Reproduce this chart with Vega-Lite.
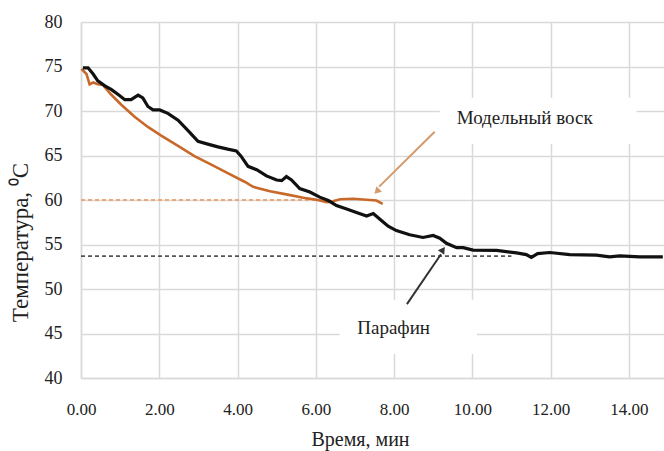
{
  "$schema": "https://vega.github.io/schema/vega-lite/v6.json",
  "width": 583,
  "height": 356,
  "autosize": "none",
  "padding": {"left": 81, "top": 22, "right": 0, "bottom": 73},
  "background": "white",
  "config": {"view": {"stroke": null}},
  "datasets": {
    "boxes": [
      {"x": 9.17, "x2": 14.2, "y": 71.5, "y2": 66.3},
      {"x": 6.61, "x2": 10.12, "y": 48.8, "y2": 42.7}
    ],
    "wax": [
      {"x": 0.01, "y": 74.73}, {"x": 0.14, "y": 74.16}, {"x": 0.22, "y": 73.0}, {"x": 0.31, "y": 73.2},
      {"x": 0.43, "y": 73.0}, {"x": 0.56, "y": 72.93}, {"x": 0.77, "y": 71.85}, {"x": 1.03, "y": 70.7},
      {"x": 1.37, "y": 69.36}, {"x": 1.71, "y": 68.21}, {"x": 2.05, "y": 67.24}, {"x": 2.48, "y": 66.09},
      {"x": 2.9, "y": 64.93}, {"x": 3.33, "y": 63.98}, {"x": 3.75, "y": 63.02}, {"x": 4.18, "y": 62.05},
      {"x": 4.4, "y": 61.48}, {"x": 4.83, "y": 60.98}, {"x": 5.25, "y": 60.63}, {"x": 5.68, "y": 60.25},
      {"x": 6.02, "y": 60.02}, {"x": 6.28, "y": 59.75}, {"x": 6.44, "y": 59.86}, {"x": 6.62, "y": 60.09},
      {"x": 6.96, "y": 60.14}, {"x": 7.3, "y": 60.02}, {"x": 7.55, "y": 59.94}, {"x": 7.71, "y": 59.56}
    ],
    "paraffin": [
      {"x": 0.05, "y": 74.85}, {"x": 0.18, "y": 74.85}, {"x": 0.31, "y": 74.16}, {"x": 0.43, "y": 73.39},
      {"x": 0.61, "y": 72.82}, {"x": 0.77, "y": 72.43}, {"x": 0.95, "y": 71.85}, {"x": 1.12, "y": 71.27},
      {"x": 1.28, "y": 71.27}, {"x": 1.46, "y": 71.78}, {"x": 1.58, "y": 71.47}, {"x": 1.71, "y": 70.51},
      {"x": 1.84, "y": 70.12}, {"x": 2.01, "y": 70.12}, {"x": 2.22, "y": 69.74}, {"x": 2.48, "y": 68.97},
      {"x": 2.73, "y": 67.82}, {"x": 2.99, "y": 66.59}, {"x": 3.24, "y": 66.28}, {"x": 3.5, "y": 65.97},
      {"x": 3.75, "y": 65.71}, {"x": 3.97, "y": 65.51}, {"x": 4.09, "y": 64.93}, {"x": 4.27, "y": 63.78},
      {"x": 4.49, "y": 63.4}, {"x": 4.74, "y": 62.71}, {"x": 5.0, "y": 62.25}, {"x": 5.13, "y": 62.17},
      {"x": 5.25, "y": 62.63}, {"x": 5.38, "y": 62.25}, {"x": 5.59, "y": 61.29}, {"x": 5.85, "y": 60.9},
      {"x": 6.1, "y": 60.32}, {"x": 6.32, "y": 59.94}, {"x": 6.53, "y": 59.37}, {"x": 6.79, "y": 58.99},
      {"x": 7.04, "y": 58.6}, {"x": 7.3, "y": 58.21}, {"x": 7.47, "y": 58.48}, {"x": 7.64, "y": 57.83},
      {"x": 7.85, "y": 57.06}, {"x": 8.06, "y": 56.56}, {"x": 8.4, "y": 56.1}, {"x": 8.74, "y": 55.79},
      {"x": 9.0, "y": 56.02}, {"x": 9.17, "y": 55.71}, {"x": 9.34, "y": 55.14}, {"x": 9.6, "y": 54.64},
      {"x": 9.77, "y": 54.64}, {"x": 10.02, "y": 54.37}, {"x": 10.62, "y": 54.33}, {"x": 11.13, "y": 54.06},
      {"x": 11.38, "y": 53.87}, {"x": 11.51, "y": 53.55}, {"x": 11.67, "y": 53.98}, {"x": 11.98, "y": 54.1},
      {"x": 12.49, "y": 53.87}, {"x": 13.17, "y": 53.8}, {"x": 13.51, "y": 53.6}, {"x": 13.77, "y": 53.72},
      {"x": 14.28, "y": 53.6}, {"x": 14.87, "y": 53.6}
    ]
  },
  "encoding": {
    "x": {
      "field": "x", "type": "quantitative",
      "scale": {"domain": [0, 14.9], "nice": false, "zero": false},
      "axis": {
        "values": [0, 2, 4, 6, 8, 10, 12, 14], "format": ".2f",
        "grid": true, "gridColor": "#d9d9d9", "gridWidth": 1.5,
        "domain": true, "domainColor": "#d9d9d9", "domainWidth": 1.5,
        "ticks": false, "labelFlush": false,
        "labelFont": "Liberation Serif", "labelFontSize": 17, "labelColor": "#222", "labelPadding": 23,
        "title": "Время, мин", "titleFont": "Liberation Serif", "titleFontSize": 20, "titleFontWeight": "normal",
        "titleColor": "#222", "titleX": 279, "titleY": 67, "titleBaseline": "alphabetic", "titleAlign": "center"
      }
    },
    "y": {
      "field": "y", "type": "quantitative",
      "scale": {"domain": [40, 80], "nice": false, "zero": false},
      "axis": {
        "values": [40, 45, 50, 55, 60, 65, 70, 75, 80],
        "grid": true, "gridColor": "#d9d9d9", "gridWidth": 1.5,
        "domain": true, "domainColor": "#d9d9d9", "domainWidth": 1.5,
        "ticks": false,
        "labelFont": "Liberation Serif", "labelFontSize": 18, "labelColor": "#222", "labelPadding": 19,
        "title": "Температура, ⁰C", "titleFont": "Liberation Serif", "titleFontSize": 23, "titleFontWeight": "normal",
        "titleColor": "#222", "titleAngle": -90, "titleX": -54, "titleY": 220, "titleBaseline": "alphabetic", "titleAlign": "center"
      }
    }
  },
  "layer": [
    {
      "data": {"name": "boxes"},
      "mark": {"type": "rect", "fill": "white"},
      "encoding": {"x2": {"field": "x2"}, "y2": {"field": "y2"}}
    },
    {
      "data": {"values": [{"x": 0, "x2": 6.35, "y": 60}]},
      "mark": {"type": "rule", "color": "#EBA878", "strokeWidth": 2, "strokeDash": [4, 3]},
      "encoding": {"x2": {"field": "x2"}}
    },
    {
      "data": {"values": [{"x": 0, "x2": 11.0, "y": 53.7}]},
      "mark": {"type": "rule", "color": "#555555", "strokeWidth": 1.8, "strokeDash": [4, 3]},
      "encoding": {"x2": {"field": "x2"}}
    },
    {
      "data": {"name": "wax"},
      "mark": {"type": "line", "color": "#C8692A", "strokeWidth": 2.6, "interpolate": "linear"},
      "encoding": {}
    },
    {
      "data": {"name": "paraffin"},
      "mark": {"type": "line", "color": "#111111", "strokeWidth": 3.2, "interpolate": "linear"},
      "encoding": {}
    },
    {
      "data": {"values": [{"x": 9.04, "y": 67.67, "x2": 7.62, "y2": 61.5}]},
      "mark": {"type": "rule", "color": "#D49A6C", "strokeWidth": 2},
      "encoding": {"x2": {"field": "x2"}, "y2": {"field": "y2"}}
    },
    {
      "data": {"values": [{"x": 7.56, "y": 60.98}]},
      "mark": {"type": "point", "shape": "triangle-up", "angle": 225, "size": 60, "filled": true, "color": "#D49A6C", "opacity": 1},
      "encoding": {}
    },
    {
      "data": {"values": [{"x": 8.33, "y": 48.3, "x2": 9.2, "y2": 53.9}]},
      "mark": {"type": "rule", "color": "#333333", "strokeWidth": 2},
      "encoding": {"x2": {"field": "x2"}, "y2": {"field": "y2"}}
    },
    {
      "data": {"values": [{"x": 9.25, "y": 54.41}]},
      "mark": {"type": "point", "shape": "triangle-up", "angle": 34, "size": 60, "filled": true, "color": "#333333", "opacity": 1},
      "encoding": {}
    },
    {
      "data": {"values": [{"x": 11.34, "y": 69.16, "label": "Модельный воск"}, {"x": 7.99, "y": 45.65, "label": "Парафин"}]},
      "mark": {"type": "text", "font": "Liberation Serif", "fontSize": 19, "color": "#222", "align": "center", "baseline": "middle"},
      "encoding": {"text": {"field": "label"}}
    }
  ]
}
